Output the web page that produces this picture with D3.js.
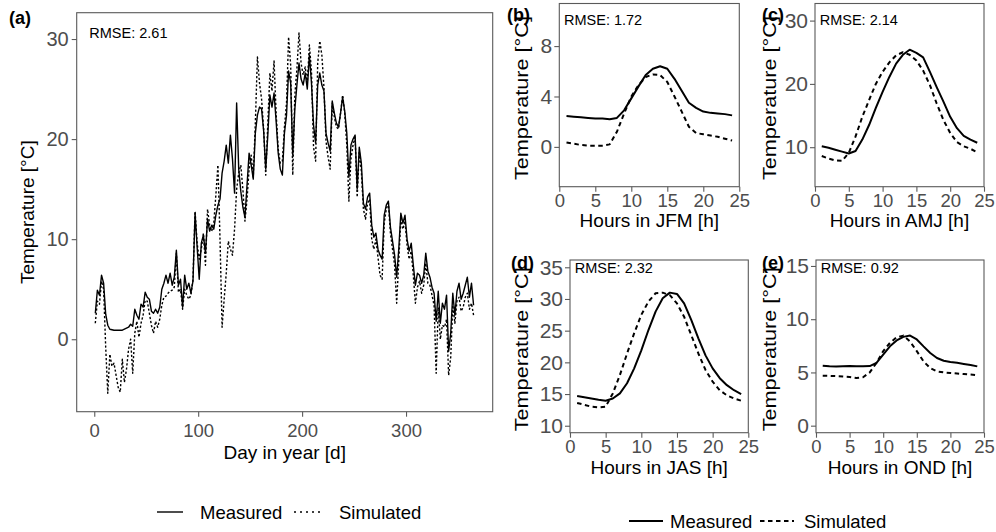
<!DOCTYPE html>
<html><head><meta charset="utf-8">
<script src="https://cdn.jsdelivr.net/npm/d3@7"></script>
<style>
body{margin:0;background:#fff}
text{font-family:"Liberation Sans",Arial,Helvetica,sans-serif}
</style>
</head><body>
<svg id="c" width="996" height="532"></svg>
<script>
// ---------- DATA ----------
// Panel (a): daily mean temperature, sampled every 2 days (day 1,3,...,365)
const dailyDays = d3.range(1, 366, 2);
const dailyMeasured = [
 2.6,4.9,4.4,6.4,5.6,2.5,1.4,1.0,0.95,0.9,
 0.9,0.9,0.9,0.9,1.0,1.1,1.2,1.5,1.3,3.0,
 2.4,2.0,3.5,3.2,4.7,4.2,4.0,2.8,2.6,3.0,
 2.6,3.2,5.0,5.6,6.4,5.6,6.6,5.4,6.2,8.9,
 5.4,6.0,3.2,6.4,5.0,5.6,4.6,5.8,12.6,9.2,
 6.0,9.6,10.4,8.6,12.0,10.8,11.4,11.0,12.4,13.4,
 14.0,16.6,17.8,19.4,17.6,20.4,18.0,14.6,23.6,17.0,
 14.8,13.2,12.2,15.4,18.6,17.4,16.0,20.6,22.4,23.2,
 23.0,20.8,17.0,20.4,24.4,23.2,24.6,21.8,18.6,17.0,
 16.4,20.6,22.4,26.8,25.6,18.4,23.0,25.4,27.6,26.0,
 25.4,26.6,25.0,28.4,25.6,21.4,19.6,25.4,26.6,25.4,
 24.8,20.6,19.6,18.8,23.8,22.6,21.6,21.2,22.6,24.2,
 22.8,20.6,16.2,19.4,20.0,20.4,15.0,19.2,17.6,13.6,
 13.0,14.2,14.6,11.4,10.2,10.6,9.0,8.4,8.0,12.4,
 13.4,13.8,11.2,9.8,8.4,6.2,9.0,12.6,11.6,12.4,
 10.0,8.8,9.6,7.4,5.4,6.6,6.4,5.6,6.4,8.6,
 6.8,6.2,5.2,4.6,1.8,4.8,1.6,3.6,3.0,4.4,
 -1.2,0.6,4.6,2.4,4.8,5.6,4.0,4.6,5.4,6.2,
 4.2,5.6,3.4];
const dailySimulated = [
 1.6,3.8,3.5,5.8,5.0,-0.8,-5.4,-1.5,-2.7,-2.4,
 -3.6,-4.8,-5.3,-2.0,-4.3,-3.0,-1.0,0.0,-3.4,0.6,
 1.8,0.2,1.6,2.4,3.9,3.8,2.6,1.4,0.6,1.8,
 1.2,2.0,3.4,4.2,4.3,4.6,4.8,4.9,5.2,8.6,
 4.7,5.0,3.0,5.0,4.4,4.0,4.4,6.0,12.8,9.6,
 8.0,9.0,10.6,7.4,13.0,11.4,10.8,11.6,14.4,17.4,
 10.0,1.2,4.0,6.6,9.8,9.0,8.4,11.0,15.0,16.6,
 17.4,15.0,11.8,14.0,17.0,18.4,16.2,21.6,28.2,25.6,
 24.0,21.0,16.4,21.6,26.6,24.8,27.8,22.6,19.0,17.6,
 17.8,21.2,23.6,30.2,27.4,16.4,24.4,27.0,30.6,27.6,
 26.4,27.2,25.6,29.4,26.8,19.2,17.8,27.6,29.8,28.4,
 25.2,19.8,18.2,17.0,23.6,22.2,21.2,21.0,22.6,24.4,
 22.6,19.4,13.8,18.0,19.4,20.2,14.2,18.8,16.8,13.0,
 12.0,13.6,14.0,10.0,9.0,10.0,8.2,6.4,6.0,11.6,
 13.0,13.6,10.6,9.0,7.4,3.6,7.8,12.0,11.0,11.8,
 9.4,8.0,8.8,6.4,3.6,5.2,5.8,4.6,5.4,7.6,
 5.6,5.4,4.4,3.4,-3.4,3.2,0.0,1.4,1.2,2.0,
 -3.6,-1.8,3.4,1.6,3.8,4.2,2.8,3.2,4.2,4.6,
 3.0,3.6,2.4];

// Panels (b)-(e): mean diurnal cycle per quarter
const hours = [1,2,3,4,5,6,7,8,9,10,11,12,13,14,15,16,17,18,19,20,21,22,23,24];
const jfmMeasured  = [2.45,2.4,2.35,2.3,2.25,2.25,2.2,2.3,2.9,3.85,4.8,5.7,6.2,6.4,6.2,5.4,4.45,3.5,3.1,2.8,2.7,2.65,2.6,2.5];
const jfmSimulated = [0.35,0.25,0.15,0.1,0.1,0.1,0.2,1.2,2.65,4.0,4.9,5.55,5.75,5.7,5.15,4.0,2.8,1.6,1.1,1.0,0.9,0.8,0.65,0.5];
const amjMeasured  = [10.15,9.9,9.6,9.3,9.0,9.4,11.2,13.5,16.2,18.75,21.1,23.2,24.6,25.4,24.9,24.2,21.9,19.5,17.2,14.8,13.0,11.8,11.2,10.7];
const amjSimulated = [8.6,8.2,7.9,7.85,9.1,11.7,14.8,17.45,20.0,21.9,23.4,24.5,25.0,24.6,23.7,22.1,19.8,16.9,14.3,12.25,10.8,10.15,9.75,9.2];
const jasMeasured  = [14.7,14.5,14.3,14.1,13.95,14.3,15.1,16.7,19.05,21.9,25.1,28.0,30.1,31.0,30.8,29.3,26.7,23.8,21.1,19.05,17.5,16.4,15.6,15.0];
const jasSimulated = [13.6,13.3,13.0,12.9,13.0,15.1,18.0,21.4,24.6,27.5,29.6,30.9,31.0,30.6,29.3,27.2,24.3,21.4,18.8,16.95,15.6,14.8,14.3,13.95];
const ondMeasured  = [5.63,5.58,5.55,5.58,5.6,5.58,5.57,5.6,5.9,6.67,7.45,8.0,8.34,8.46,8.1,7.45,6.83,6.36,6.1,5.98,5.9,5.8,5.7,5.57];
const ondSimulated = [4.69,4.68,4.65,4.62,4.58,4.47,4.55,5.0,5.9,7.0,7.77,8.3,8.46,7.9,7.0,6.04,5.4,5.1,5.0,4.95,4.9,4.85,4.8,4.75];

const rmse = {a:"2.61", b:"1.72", c:"2.14", d:"2.32", e:"0.92"};
const dayTicks = [0,100,200,300];
const dayTempTicks = [0,10,20,30];
const hourTicks = [0,5,10,15,20,25];
const legendLabels = ["Measured","Simulated"];

// ---------- DRAW ----------
const svg = d3.select("#c");
const BORDER = "#5a5a5a", TICKTXT = "#4d4d4d";

function panel(o){
  const g = svg.append("g");
  const x = d3.scaleLinear().domain(o.xd).range([o.l,o.r]);
  const y = d3.scaleLinear().domain(o.yd).range([o.b,o.t]);
  const line = d3.line().x(d=>x(d[0])).y(d=>y(d[1]));
  g.append("path").datum(d3.zip(o.xs,o.sim)).attr("d",line)
    .attr("fill","none").attr("stroke","#000").attr("stroke-width",o.lw)
    .attr("stroke-dasharray",o.dash).attr("stroke-linejoin","round");
  g.append("path").datum(d3.zip(o.xs,o.meas)).attr("d",line)
    .attr("fill","none").attr("stroke","#000").attr("stroke-width",o.lw)
    .attr("stroke-linejoin","round");
  g.append("rect").attr("x",o.l).attr("y",o.t).attr("width",o.r-o.l).attr("height",o.b-o.t)
    .attr("fill","none").attr("stroke",BORDER).attr("stroke-width",1.1);
  const xa = g.append("g").attr("transform",`translate(0,${o.b})`)
    .call(d3.axisBottom(x).tickValues(o.xt).tickSize(5).tickPadding(o.xpad).tickFormat(d3.format("d")));
  xa.select(".domain").remove();
  xa.selectAll("line").attr("stroke",BORDER).attr("stroke-width",1.1);
  xa.selectAll("text").attr("fill",TICKTXT).style("font-size",o.xfs+"px").attr("font-family",null);
  const ya = g.append("g").attr("transform",`translate(${o.l},0)`)
    .call(d3.axisLeft(y).tickValues(o.yt).tickSize(5).tickPadding(o.ypad).tickFormat(d3.format("d")));
  ya.select(".domain").remove();
  ya.selectAll("line").attr("stroke",BORDER).attr("stroke-width",1.1);
  ya.selectAll("text").attr("fill",TICKTXT).style("font-size",o.yfs+"px").attr("font-family",null);
  // axis titles
  g.append("text").attr("x",(o.l+o.r)/2).attr("y",o.xty).attr("text-anchor","middle")
    .style("font-size","19px").text(o.xtitle);
  const yt = g.append("text").attr("transform",`translate(${o.ytx},${(o.t+o.b)/2+(o.ytdy||0)}) rotate(-90)`)
    .attr("text-anchor","middle").style("font-size",o.ytfs+"px").text("Temperature [°C]");
  if(o.ytlen) yt.attr("textLength",o.ytlen).attr("lengthAdjust","spacingAndGlyphs");
  // RMSE
  g.append("text").attr("x",o.l+o.rx).attr("y",o.ry).style("font-size","14.5px").text("RMSE: "+o.rmse);
  // panel tag
  g.append("text").attr("x",o.tagx).attr("y",o.tagy).style("font-size","18px").attr("font-weight","bold").text(o.tag);
}

panel({xs:dailyDays, meas:dailyMeasured, sim:dailySimulated,
  l:76.7, r:492.7, t:12.7, b:411.7, xd:[-16.9,383.4], yd:[-7.24,32.63],
  xt:dayTicks, yt:dayTempTicks, lw:1.4, dash:"2.2,2",
  xpad:7, ypad:3, xfs:18.5, yfs:20, xtitle:"Day in year [d]", xty:459,
  ytx:34, ytfs:19, rmse:rmse.a, rx:12.6, ry:37.5, tag:"(a)", tagx:9, tagy:24});

const small = [
  {meas:jfmMeasured, sim:jfmSimulated, l:559.3, r:739.3, t:3.5, b:186.7, yd:[-3.16,11.38], yt:[0,4,8], xtitle:"Hours in JFM [h]", row:0, tag:"(b)", tagx:507, ytx:528, rmse:rmse.b},
  {meas:amjMeasured, sim:amjSimulated, l:815, r:984, t:3.5, b:186.7, yd:[3.76,32.7], yt:[10,20,30], xtitle:"Hours in AMJ [h]", row:0, tag:"(c)", tagx:762, ytx:776, rmse:rmse.c},
  {meas:jasMeasured, sim:jasSimulated, l:570, r:748.3, t:260, b:432.7, yd:[8.9,36.15], yt:[10,15,20,25,30,35], xtitle:"Hours in JAS [h]", row:1, tag:"(d)", tagx:511, ytx:527.5, rmse:rmse.d},
  {meas:ondMeasured, sim:ondSimulated, l:816, r:984, t:260, b:432.7, yd:[-0.66,15.56], yt:[0,5,10,15], xtitle:"Hours in OND [h]", row:1, tag:"(e)", tagx:762, ytx:776, rmse:rmse.e}
];
small.forEach(p=>{
  panel(Object.assign({xs:hours, xd:[0,25], xt:hourTicks, lw:2, dash:"4.5,3.5",
    xpad:2, ypad:2, xfs:18.5, yfs:21, xty: p.row===0?226.5:473.5,
    ytfs:18, ytlen:164, ytdy:3, rx:4.7, ry:p.row===0?25:273,
    tagy:p.row===0?21:269}, p));
});

// ---------- LEGENDS ----------
function legend(o){
  const g = svg.append("g");
  g.append("line").attr("x1",o.x0).attr("x2",o.x0+o.len).attr("y1",o.y).attr("y2",o.y)
    .attr("stroke","#000").attr("stroke-width",o.lw);
  g.append("text").attr("x",o.t0).attr("y",o.y+6.5).style("font-size","18.5px").text(legendLabels[0]);
  g.append("line").attr("x1",o.x1).attr("x2",o.x1+o.len).attr("y1",o.y).attr("y2",o.y)
    .attr("stroke","#000").attr("stroke-width",o.lw).attr("stroke-dasharray",o.dash);
  g.append("text").attr("x",o.t1).attr("y",o.y+6.5).style("font-size","18.5px").text(legendLabels[1]);
}
legend({x0:157, x1:294, len:26, y:512, lw:1.4, dash:"2,4", t0:200, t1:339});
legend({x0:629, x1:760, len:34, y:521, lw:2, dash:"4.5,3.5", t0:670, t1:804});
</script>
</body></html>
